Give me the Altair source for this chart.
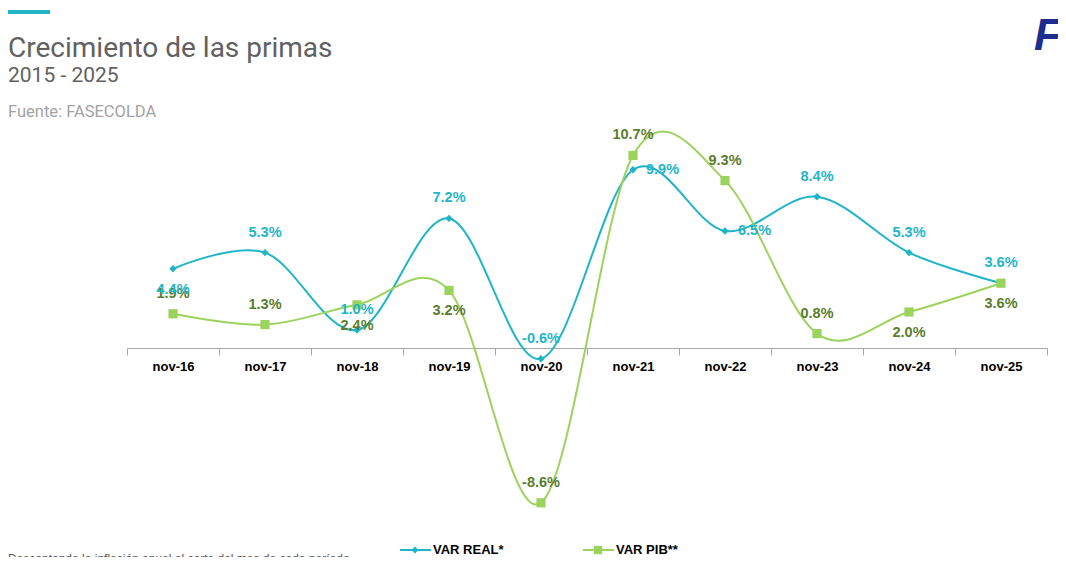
import altair as alt
import pandas as pd

# ---- data ----
periodos = ["nov-16", "nov-17", "nov-18", "nov-19", "nov-20",
            "nov-21", "nov-22", "nov-23", "nov-24", "nov-25"]
var_real = [4.4, 5.3, 1.0, 7.2, -0.6, 9.9, 6.5, 8.4, 5.3, 3.6]
var_pib = [1.9, 1.3, 2.4, 3.2, -8.6, 10.7, 9.3, 0.8, 2.0, 3.6]
series = ["VAR REAL*", "VAR PIB**"]
# label placement of each data label (as in the original)
pos_real = ["abajo", "arriba", "arriba", "arriba", "arriba",
            "derecha", "derecha", "arriba", "arriba", "arriba"]
pos_pib = ["arriba", "arriba", "abajo", "abajo", "arriba",
           "arriba", "arriba", "arriba", "abajo", "abajo"]

rows = []
for s, vals, pos in ((series[0], var_real, pos_real), (series[1], var_pib, pos_pib)):
    for p, v, q in zip(periodos, vals, pos):
        rows.append({"serie": s, "periodo": p, "valor": v, "pos": q})
df = pd.DataFrame(rows)

# ---- style ----
TEAL = "#1fb5c7"
GREEN = "#9bd35c"
OLIVE = "#5b7d2c"
FONT = "Liberation Sans"
W, H = 920, 387
Y_MIN, Y_MAX = -9.5, 12.0
PAD_L, PAD_T, PAD_R, PAD_B = 119, 124, 11, 38
axis_offset = -H * (0 - Y_MIN) / (Y_MAX - Y_MIN)


def cx(x):
    return x - 8 - PAD_L


def cy(y):
    return y - 8 - PAD_T


x_enc = alt.X(
    "periodo:N", sort=periodos, bandPosition=0.5,
    scale=alt.Scale(type="band", paddingInner=0, paddingOuter=0),
    axis=alt.Axis(title=None, orient="bottom", offset=axis_offset, tickBand="extent",
                  domainColor="#a6a6a6", tickColor="#a6a6a6", tickSize=7,
                  labelFont=FONT, labelFontWeight="bold", labelFontSize=13,
                  labelColor="#000000", labelPadding=5, labelAngle=0, grid=False),
)
y_enc = alt.Y("valor:Q", scale=alt.Scale(domain=[Y_MIN, Y_MAX], nice=False, zero=False), axis=None)
col_line = alt.Color("serie:N", scale=alt.Scale(domain=series, range=[TEAL, GREEN]), legend=None)
col_text = alt.Color("serie:N", scale=alt.Scale(domain=series, range=[TEAL, OLIVE]), legend=None)

base = alt.Chart(df).encode(x=x_enc, y=y_enc)

lines = base.mark_line(interpolate="cardinal", strokeWidth=2).encode(color=col_line, detail="serie:N")
points = base.mark_point(filled=True, opacity=1).encode(
    color=col_line,
    shape=alt.Shape("serie:N", scale=alt.Scale(domain=series, range=["diamond", "square"]), legend=None),
    size=alt.Size("serie:N", scale=alt.Scale(domain=series, range=[55, 85]), legend=None),
)

txt = base.transform_calculate(
    lbl="(datum.valor < 0 ? '-' : '') + format(abs(datum.valor), '.1f') + '%'")
tkw = dict(font=FONT, fontSize=14.5, fontWeight="bold", baseline="middle")
t_up = txt.transform_filter("datum.pos == 'arriba'").mark_text(dy=-20, **tkw).encode(text="lbl:N", color=col_text)
t_dn = txt.transform_filter("datum.pos == 'abajo'").mark_text(dy=21, **tkw).encode(text="lbl:N", color=col_text)
t_rt = txt.transform_filter("datum.pos == 'derecha'").mark_text(dx=13, align="left", **tkw).encode(text="lbl:N", color=col_text)

one = pd.DataFrame({"k": [0]})
deco = []
# teal bar on top-left
deco.append(alt.Chart(one).mark_rule(color="#21b4c9", strokeWidth=4).encode(
    x=alt.value(cx(8)), x2=alt.value(cx(50)), y=alt.value(cy(12))))
# titles
deco.append(alt.Chart(one).mark_text(align="left", baseline="alphabetic", font="Roboto",
                                     fontSize=28, color="#616161").encode(
    x=alt.value(cx(8)), y=alt.value(cy(57)), text=alt.value("Crecimiento de las primas")))
deco.append(alt.Chart(one).mark_text(align="left", baseline="alphabetic", font="Roboto",
                                     fontSize=21, color="#616161").encode(
    x=alt.value(cx(8)), y=alt.value(cy(82)), text=alt.value("2015 - 2025")))
deco.append(alt.Chart(one).mark_text(align="left", baseline="alphabetic", font="Roboto",
                                     fontSize=16.5, color="#a3a3a3").encode(
    x=alt.value(cx(8)), y=alt.value(cy(117)), text=alt.value("Fuente: FASECOLDA")))
# logo fragment
deco.append(alt.Chart(one).mark_text(align="left", baseline="alphabetic", font=FONT,
                                     fontSize=44, fontWeight="bold", fontStyle="italic",
                                     color="#1b2d8f").encode(
    x=alt.value(cx(1034)), y=alt.value(cy(50)), text=alt.value("Fa")))
# footnote (cut at the bottom edge)
deco.append(alt.Chart(one).mark_text(align="left", baseline="alphabetic", font=FONT,
                                     fontSize=12, color="#555555").encode(
    x=alt.value(cx(8)), y=alt.value(cy(563)),
    text=alt.value("Descontando la inflación anual al corte del mes de cada período")))
# legend
for (x0, s, c, shp, sz) in ((400, series[0], TEAL, "diamond", 50), (583, series[1], GREEN, "square", 70)):
    deco.append(alt.Chart(one).mark_rule(color=c, strokeWidth=2).encode(
        x=alt.value(cx(x0)), x2=alt.value(cx(x0 + 31)), y=alt.value(cy(550))))
    deco.append(alt.Chart(one).mark_point(shape=shp, filled=True, opacity=1, size=sz, color=c).encode(
        x=alt.value(cx(x0 + 15)), y=alt.value(cy(550))))
    deco.append(alt.Chart(one).mark_text(align="left", baseline="middle", font=FONT,
                                         fontSize=13, fontWeight="bold", color="#000000").encode(
        x=alt.value(cx(x0 + 33)), y=alt.value(cy(550)), text=alt.value(s)))

chart = alt.layer(lines, points, t_up, t_dn, t_rt, *deco).resolve_scale(
    color="independent"
).properties(
    width=W, height=H,
    autosize=alt.AutoSizeParams(type="none"),
    padding={"left": PAD_L, "top": PAD_T, "right": PAD_R, "bottom": PAD_B},
    background="white",
).configure_view(stroke=None)

chart.save("out.html", embed_options={"renderer": "svg", "actions": False})
